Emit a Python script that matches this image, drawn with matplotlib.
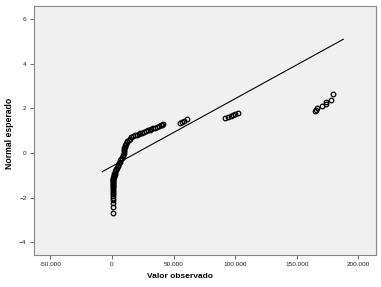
import matplotlib
matplotlib.use("Agg")
import matplotlib.pyplot as plt
from matplotlib.ticker import FuncFormatter

obs_x = [400, 500, 500, 600, 600, 600, 700, 700, 700, 800, 800, 800, 900, 900, 900,
         1000, 1000, 1000, 1100, 1100, 1200, 1200, 1300, 1400, 1500, 1700, 1900, 2100,
         2400, 2800, 3200, 3600, 4000, 4500, 5000, 5600, 6200, 6800, 7500, 8200, 8800,
         9200, 9400, 9600, 9800, 10000, 10300, 10700, 11200, 11800, 12500, 13500, 14500,
         15500, 17000, 18500, 20000, 21500, 23000, 24500, 26000, 27500, 29000, 30500,
         32000, 33500, 35000, 36500, 38000, 39500, 40500, 41500,
         55500, 57000, 58500, 60500,
         91500, 94000, 96500, 98000, 99500, 102500,
         165000, 165500, 166000, 170500, 173500, 174000, 177500, 179500]
exp_y = [-2.70, -2.42, -2.25, -2.12, -2.02, -1.93, -1.85, -1.78, -1.71, -1.65, -1.59,
         -1.54, -1.49, -1.44, -1.39, -1.35, -1.31, -1.27, -1.23, -1.19, -1.15, -1.12,
         -1.08, -1.05, -1.02, -0.99, -0.96, -0.93,
         -0.88, -0.83, -0.78, -0.72, -0.66, -0.60, -0.54, -0.47, -0.40, -0.33, -0.27,
         -0.21, -0.14, -0.07, 0.00, 0.07, 0.14, 0.21, 0.28, 0.35, 0.42, 0.49, 0.55,
         0.60, 0.65, 0.70, 0.75, 0.79, 0.83, 0.86, 0.89, 0.92, 0.96, 0.99, 1.02, 1.05,
         1.08, 1.11, 1.14, 1.17, 1.20, 1.24, 1.28, 1.32,
         1.35, 1.40, 1.45, 1.52,
         1.56, 1.60, 1.64, 1.69, 1.74, 1.80,
         1.88, 1.95, 2.02, 2.10, 2.18, 2.27, 2.40, 2.66]

# reference line (mean / sd of the sample)
line_x = [-7900, 187700]
mean_x = 19700
sd_x = 32900

x_ticks = [-50000, 0, 50000, 100000, 150000, 200000]
y_ticks = [-4, -2, 0, 2, 4, 6]

plt.rcParams['font.family'] = ['Liberation Sans', 'DejaVu Sans']

fig = plt.figure(figsize=(3.81, 2.87), dpi=100)
ax = fig.add_axes([0.088, 0.1115, 0.899, 0.8675])
ax.set_facecolor('#f0f0f0')

line_y = [(v - mean_x) / sd_x for v in line_x]
ax.plot(line_x, line_y, color='black', lw=0.8)

ax.plot(obs_x, exp_y, linestyle='none', marker='o', markersize=3.3,
        markerfacecolor='none', markeredgecolor='black', markeredgewidth=0.9)

ax.set_xlim(-63700, 214300)
ax.set_ylim(-4.58, 6.6)
ax.set_xticks(x_ticks)
ax.set_yticks(y_ticks)

def thousands(v, pos):
    if v == 0:
        return '0'
    s = '{:,.0f}'.format(abs(v)).replace(',', '.')
    return ('-' if v < 0 else '') + s

ax.xaxis.set_major_formatter(FuncFormatter(thousands))
ax.tick_params(axis='both', labelsize=4.6, length=3, width=0.6, color='#555555',
               pad=2, labelcolor='#222222')

for side in ['top', 'right', 'left', 'bottom']:
    ax.spines[side].set_color('#888888')
    ax.spines[side].set_linewidth(0.8)

ax.set_xlabel('Valor observado', fontsize=6, fontweight='bold')
ax.set_ylabel('Normal esperado', fontsize=6.2, fontweight='bold')
ax.xaxis.set_label_coords(0.428, -0.072)
ax.yaxis.set_label_coords(-0.056, 0.49)

plt.savefig('out.png', dpi=100)
